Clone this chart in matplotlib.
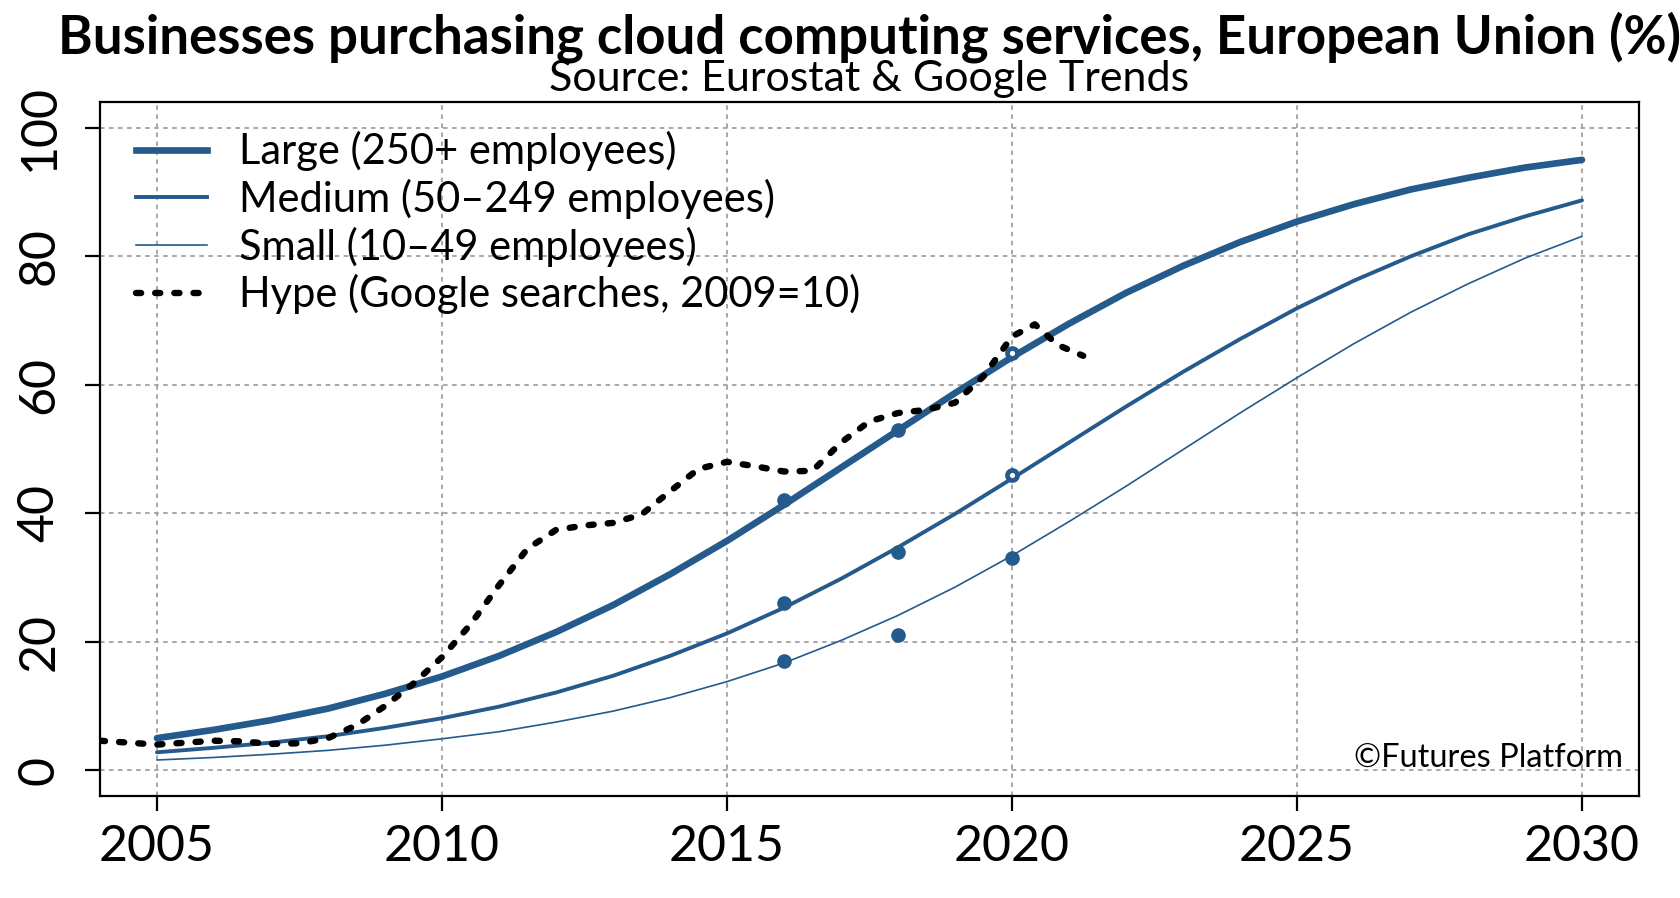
import matplotlib
matplotlib.use("Agg")
import matplotlib.pyplot as plt
from matplotlib.lines import Line2D

# --- Data ---
years = list(range(2005, 2031))
large = [5.0, 6.3, 7.8, 9.6, 11.9, 14.6, 17.8, 21.5, 25.7, 30.5, 35.7, 41.3, 47.1,
         52.9, 58.7, 64.3, 69.5, 74.3, 78.5, 82.2, 85.4, 88.1, 90.4, 92.2, 93.8, 95.0]
medium = [2.8, 3.5, 4.3, 5.3, 6.6, 8.1, 9.9, 12.1, 14.7, 17.8, 21.3, 25.3, 29.8,
          34.7, 39.9, 45.4, 51.0, 56.6, 62.0, 67.1, 71.9, 76.2, 80.0, 83.4, 86.2, 88.7]
small = [1.6, 2.0, 2.5, 3.1, 3.9, 4.9, 6.0, 7.5, 9.2, 11.3, 13.8, 16.7, 20.2,
         24.1, 28.5, 33.4, 38.7, 44.2, 49.9, 55.6, 61.1, 66.4, 71.3, 75.7, 79.7, 83.1]

survey_years = [2016, 2018, 2020]
large_obs = [42, 53, 65]
medium_obs = [26, 34, 46]
small_obs = [17, 21, 33]

hype_x = [2004.0, 2004.5, 2005.0, 2005.5, 2006.0, 2006.5, 2007.0, 2007.5, 2008.0,
          2008.5, 2009.0, 2009.5, 2010.0, 2010.5, 2011.0, 2011.5, 2012.0, 2012.5,
          2013.0, 2013.5, 2014.0, 2014.5, 2015.0, 2015.5, 2016.0, 2016.5, 2017.0,
          2017.5, 2018.0, 2018.5, 2019.0, 2019.5, 2020.0, 2020.4, 2020.8, 2021.25]
hype_y = [4.6, 4.3, 4.0, 4.3, 4.6, 4.5, 4.1, 4.2, 5.0,
          7.0, 10.0, 13.5, 17.6, 22.7, 28.8, 34.5, 37.4, 38.1,
          38.5, 39.8, 43.4, 46.9, 48.0, 47.3, 46.5, 46.6, 51.0,
          54.3, 55.6, 56.1, 57.2, 61.3, 67.5, 69.4, 66.2, 64.5]

labels = ["Large (250+ employees)", "Medium (50\u2013249 employees)",
          "Small (10\u201349 employees)", "Hype (Google searches, 2009=10)"]

blue = "#245a8c"
font = "Lato"
widths = [4.8, 2.8, 1.2]

fig = plt.figure(figsize=(16.8, 8.98), dpi=100)
ax = fig.add_axes([0.0595, 0.1136, 0.9161, 0.7728])

# --- Curves and observations ---
for vals, lw in zip((large, medium, small), widths):
    ax.plot(years, vals, color=blue, lw=lw, solid_capstyle="round", zorder=3)
for i, obs in enumerate((large_obs, medium_obs, small_obs)):
    ax.plot(survey_years[:2], obs[:2], "o", color=blue, ms=9.5, zorder=4)
    # latest year shown as a ring for large and medium firms
    if i < 2:
        ax.plot(survey_years[2:], obs[2:], "o", color=blue, mfc="white",
                mew=3.4, ms=7.2, zorder=4)
    else:
        ax.plot(survey_years[2:], obs[2:], "o", color=blue, ms=9.5, zorder=4)
ax.plot(hype_x, hype_y, color="black", lw=4.6, linestyle=(0, (0.8, 2.2)),
        dash_capstyle="round", zorder=5)

# --- Axes styling ---
ax.set_xlim(2004, 2031)
ax.set_ylim(-4, 104)
ax.set_xticks(range(2005, 2031, 5))
ax.set_yticks(range(0, 101, 20))
ax.grid(True, color="#a0a0a0", linestyle=(0, (2.5, 2.5)), linewidth=1.3)
ax.set_axisbelow(True)
for s in ax.spines.values():
    s.set_linewidth(1.6)
ax.tick_params(length=11, width=1.6, labelsize=36)
ax.tick_params(axis="x", pad=9)
ax.tick_params(axis="y", pad=16)
for lab in ax.get_xticklabels() + ax.get_yticklabels():
    lab.set_fontfamily(font)
for lab in ax.get_yticklabels():
    lab.set_rotation(90)
    lab.set_va("center")

# --- Legend ---
handles = [Line2D([], [], color=blue, lw=widths[0]),
           Line2D([], [], color=blue, lw=widths[1]),
           Line2D([], [], color=blue, lw=widths[2]),
           Line2D([], [], color="black", lw=4.6, linestyle=(0, (0.8, 2.2)),
                  dash_capstyle="round")]
ax.legend(handles, labels, loc="upper left", bbox_to_anchor=(0.0125, 0.982),
          frameon=False, prop={"family": font, "size": 30}, handlelength=1.7,
          handletextpad=0.78, labelspacing=0.18, borderaxespad=0)

# --- Titles ---
cx = 0.0595 + 0.9161 / 2
fig.text(cx, 0.940, "Businesses purchasing cloud computing services, European Union (%)",
         ha="center", va="baseline", fontsize=38, fontweight="bold", family=font)
fig.text(cx, 0.8987, "Source: Eurostat & Google Trends",
         ha="center", va="baseline", fontsize=31, family=font)
fig.text(0.966, 0.156, "\u00a9Futures Platform", ha="right", va="center",
         fontsize=23.5, family=font)

fig.savefig("out.png", dpi=100)
